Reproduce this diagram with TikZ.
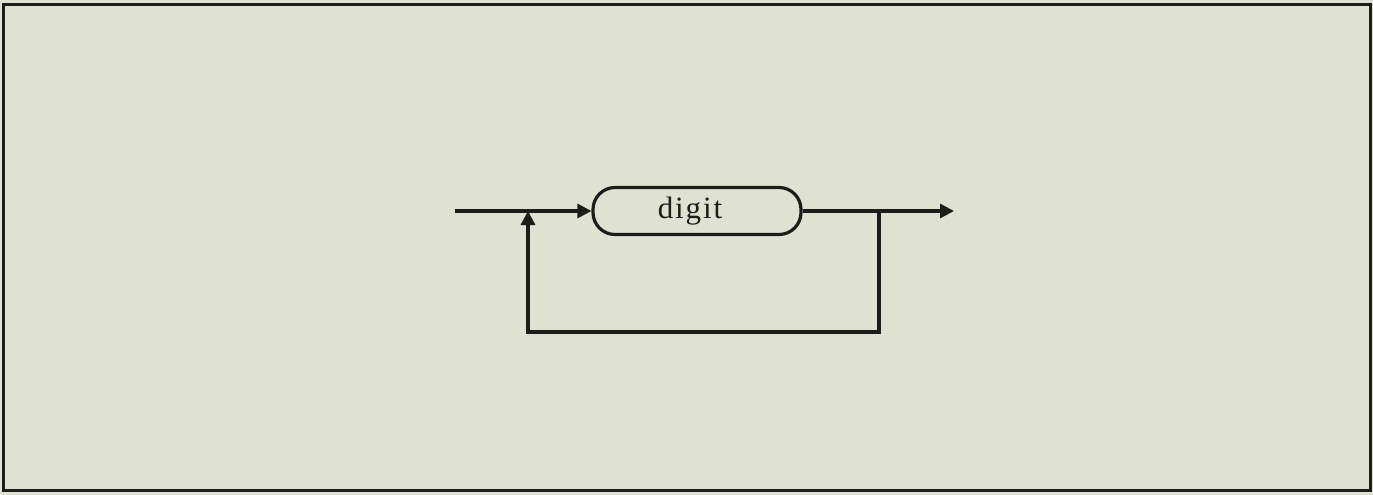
\documentclass[tikz,border=0pt]{standalone}
\usepackage{fontspec}
\setmainfont{Liberation Serif}
\usetikzlibrary{arrows.meta}
\definecolor{paper}{RGB}{223,226,209}
\definecolor{ink}{RGB}{28,28,26}
\begin{document}
\begin{tikzpicture}[x=1pt,y=-1pt,
  line/.style={draw=ink,line width=3.2pt},
  tip/.style={-{Triangle[length=14pt,width=14pt]}},
  term/.style={draw=ink,line width=3.2pt,rounded corners=22pt,minimum width=208pt,minimum height=47pt,inner sep=0pt,font=\fontsize{31}{38}\selectfont\addfontfeatures{LetterSpace=6},text=ink}]
\fill[paper] (0,0) rectangle (1373,495);
\useasboundingbox (0,0) rectangle (1373,495);
\draw[ink,line width=3pt] (3.5,4.5) rectangle (1370.5,490);
\node[term] (dig) at (697,211) {\hspace*{-14pt}digit};
\coordinate (start) at (455,211);
\coordinate (jl) at (528,211);
\coordinate (jr) at (879,211);
\coordinate (endp) at (954,211);
\coordinate (bl) at (528,332);
\coordinate (br) at (879,332);
\draw[line,tip] (start) -- (dig.west);
\draw[line,tip] (dig.east) -- (endp);
\draw[line,tip] (jr) -- (br) -- (bl) -- (jl);
\end{tikzpicture}
\end{document}
